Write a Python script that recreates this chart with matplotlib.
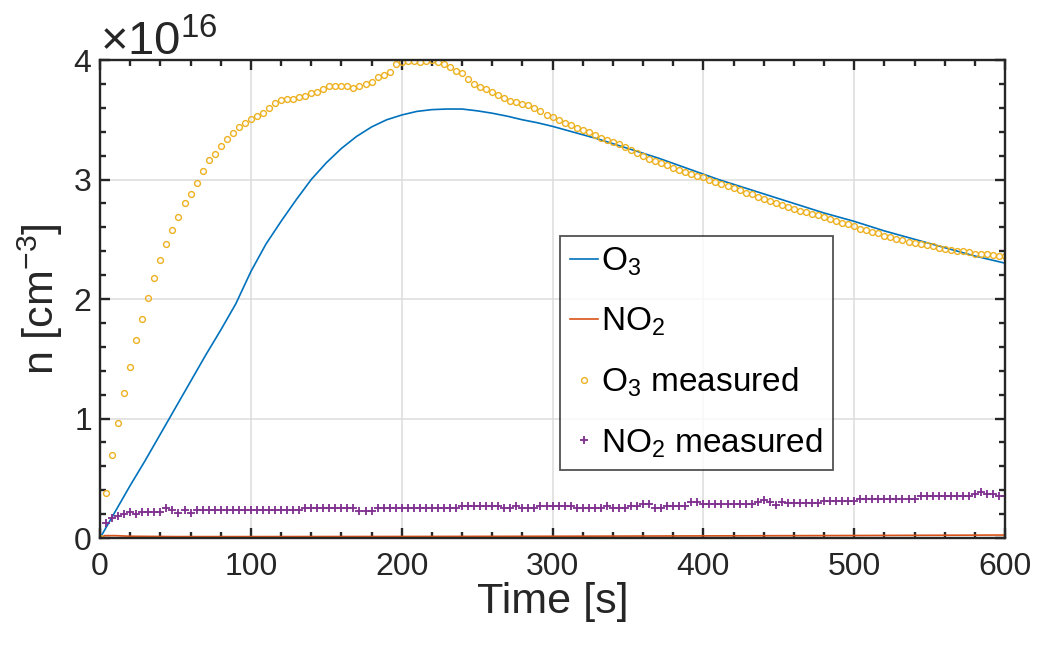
import numpy as np
import matplotlib
matplotlib.use('Agg')
import matplotlib.pyplot as plt
from matplotlib.ticker import MultipleLocator, ScalarFormatter

plt.rcParams['font.family'] = ['Liberation Sans', 'DejaVu Sans']
plt.rcParams['mathtext.fontset'] = 'custom'
plt.rcParams['mathtext.rm'] = 'Liberation Sans'
plt.rcParams['mathtext.it'] = 'Liberation Sans:italic'
plt.rcParams['mathtext.default'] = 'regular'

# measured data (every 4 s), values in 1e16 cm^-3
t_meas = np.arange(0, 601, 4)
o3_meas = [
    0.0, 0.374, 0.695, 0.96, 1.21, 1.43, 1.654, 1.83, 2.01, 2.18,
    2.33, 2.46, 2.58, 2.69, 2.80, 2.876, 2.97, 3.07, 3.16, 3.21,
    3.28, 3.34, 3.39, 3.44, 3.475, 3.51, 3.53, 3.56, 3.60, 3.64,
    3.665, 3.67, 3.67, 3.69, 3.70, 3.72, 3.735, 3.755, 3.78, 3.78,
    3.78, 3.78, 3.77, 3.785, 3.80, 3.82, 3.86, 3.875, 3.90, 3.97,
    3.98, 3.99, 3.99, 3.98, 3.99, 4.0, 3.98, 3.97, 3.94, 3.91,
    3.89, 3.845, 3.80, 3.775, 3.755, 3.735, 3.71, 3.685, 3.66, 3.645,
    3.635, 3.62, 3.60, 3.57, 3.54, 3.52, 3.495, 3.475, 3.46, 3.435,
    3.415, 3.395, 3.375, 3.35, 3.33, 3.315, 3.295, 3.27, 3.245, 3.22,
    3.195, 3.175, 3.155, 3.14, 3.12, 3.10, 3.08, 3.06, 3.045, 3.03,
    3.02, 3.0, 2.977, 2.96, 2.95, 2.93, 2.91, 2.89, 2.875, 2.855,
    2.84, 2.82, 2.805, 2.79, 2.77, 2.755, 2.74, 2.73, 2.71, 2.70,
    2.685, 2.67, 2.655, 2.64, 2.625, 2.61, 2.59, 2.58, 2.565, 2.55,
    2.53, 2.52, 2.505, 2.495, 2.48, 2.47, 2.46, 2.45, 2.44, 2.43,
    2.42, 2.41, 2.405, 2.40, 2.39, 2.38, 2.375, 2.375, 2.37, 2.36,
    2.36,
]
no2_meas = [
    0.0, 0.123, 0.167, 0.184, 0.2, 0.218, 0.2, 0.218, 0.218, 0.218,
    0.218, 0.254, 0.234, 0.212, 0.234, 0.212, 0.234, 0.234, 0.234, 0.234,
    0.234, 0.234, 0.234, 0.234, 0.234, 0.234, 0.234, 0.234, 0.234, 0.234,
    0.234, 0.234, 0.234, 0.234, 0.25, 0.25, 0.25, 0.25, 0.25, 0.25,
    0.25, 0.25, 0.25, 0.229, 0.229, 0.229, 0.25, 0.25, 0.25, 0.25,
    0.25, 0.25, 0.25, 0.25, 0.25, 0.25, 0.25, 0.25, 0.25, 0.25,
    0.268, 0.268, 0.268, 0.268, 0.268, 0.268, 0.268, 0.25, 0.25, 0.268,
    0.25, 0.25, 0.25, 0.268, 0.268, 0.268, 0.268, 0.268, 0.268, 0.25,
    0.25, 0.25, 0.25, 0.25, 0.268, 0.25, 0.25, 0.25, 0.268, 0.268,
    0.285, 0.285, 0.25, 0.25, 0.268, 0.268, 0.268, 0.268, 0.3, 0.3,
    0.285, 0.285, 0.285, 0.285, 0.285, 0.285, 0.285, 0.285, 0.285, 0.3,
    0.318, 0.3, 0.28, 0.3, 0.296, 0.296, 0.296, 0.296, 0.296, 0.296,
    0.312, 0.312, 0.312, 0.312, 0.312, 0.312, 0.329, 0.329, 0.329, 0.329,
    0.329, 0.329, 0.329, 0.329, 0.329, 0.329, 0.349, 0.349, 0.349, 0.349,
    0.349, 0.349, 0.349, 0.349, 0.349, 0.368, 0.385, 0.368, 0.368, 0.349,
    0.349,
]

# model curves
t_o3 = np.arange(0, 601, 10)
o3_model = [
    0.0, 0.22, 0.44, 0.65, 0.87, 1.09, 1.31, 1.53, 1.74, 1.96,
    2.23, 2.46, 2.65, 2.83, 3.00, 3.14, 3.26, 3.36, 3.44, 3.50,
    3.54, 3.57, 3.585, 3.59, 3.59, 3.575, 3.555, 3.53, 3.50, 3.475,
    3.445, 3.41, 3.375, 3.34, 3.30, 3.26, 3.22, 3.18, 3.135, 3.09,
    3.045, 3.00, 2.96, 2.92, 2.88, 2.84, 2.80, 2.76, 2.72, 2.685,
    2.65, 2.61, 2.57, 2.535, 2.50, 2.465, 2.43, 2.395, 2.36, 2.33,
    2.30,
]
t_no2 = [0, 3, 10, 20, 50, 100, 200, 300, 400, 500, 600]
no2_model = [0.0, 0.02, 0.02, 0.015, 0.012, 0.012, 0.013, 0.015, 0.018, 0.021, 0.025]

scale = 1e16
dark = '#262626'

fig = plt.figure(figsize=(10.4, 6.49), dpi=100)
ax = fig.add_axes([0.0962, 0.171, 0.8702, 0.7365])

ax.plot(t_o3, np.array(o3_model) * scale, color='#0072BD', lw=1.2, label='O$_3$')
ax.plot(t_no2, np.array(no2_model) * scale, color='#D95319', lw=1.2, label='NO$_2$')
ax.plot(t_meas, np.array(o3_meas) * scale, ls='none', marker='o', ms=4.2,
        mfc='none', mec='#EDB120', mew=1.0, label='O$_3$ measured')
ax.plot(t_meas, np.array(no2_meas) * scale, ls='none', marker='+', ms=5.5,
        mec='#7E2F8E', mew=1.3, label='NO$_2$ measured')

ax.set_xlim(0, 600)
ax.set_ylim(0, 4e16)
ax.xaxis.set_major_locator(MultipleLocator(100))
ax.xaxis.set_minor_locator(MultipleLocator(20))
ax.yaxis.set_major_locator(MultipleLocator(1e16))
ax.yaxis.set_minor_locator(MultipleLocator(0.2e16))
fmt = ScalarFormatter(useMathText=True)
fmt.set_powerlimits((0, 0))
ax.yaxis.set_major_formatter(fmt)

ax.grid(True, which='major', color='#dcdcdc', lw=1.1)
ax.set_axisbelow(True)
for s in ax.spines.values():
    s.set_linewidth(1.7)
    s.set_color(dark)
ax.tick_params(which='both', direction='in', top=True, right=True,
               color=dark, labelcolor=dark, width=1.7)
ax.tick_params(which='major', length=7, labelsize=23)
ax.tick_params(axis='x', which='major', pad=10)
ax.tick_params(axis='y', which='major', pad=6)
ax.tick_params(which='minor', length=4.5)
off = ax.yaxis.get_offset_text()
off.set_fontsize(34)
off.set_color(dark)

ax.set_xlabel('Time [s]', fontsize=31, color=dark, labelpad=0)
ax.set_ylabel('n [cm$^{-3}$]', fontsize=31, color=dark, labelpad=6)

leg = ax.legend(loc='upper left', bbox_to_anchor=(0.508, 0.632), fontsize=24,
                frameon=True, fancybox=False, handlelength=0.85,
                handletextpad=0.1, labelspacing=0.82, borderpad=0.3,
                borderaxespad=0)
leg.get_frame().set_edgecolor(dark)
leg.get_frame().set_linewidth(1.3)

fig.savefig('out.png', dpi=100)
